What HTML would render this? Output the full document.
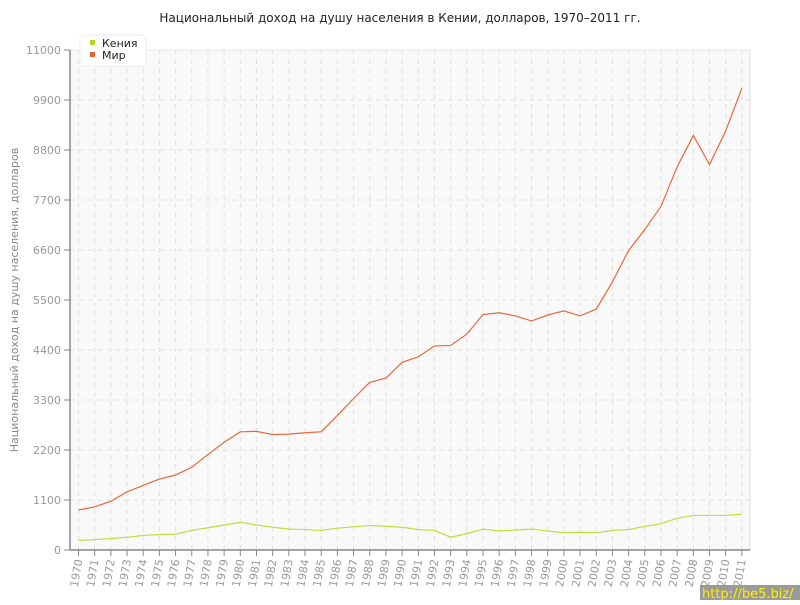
<!DOCTYPE html>
<html><head><meta charset="utf-8"><style>
body{margin:0;background:#fff;width:800px;height:600px;overflow:hidden;font-family:"Liberation Sans","DejaVu Sans",sans-serif}
</style></head><body>
<svg id="c" width="800" height="600" xmlns="http://www.w3.org/2000/svg" font-family="DejaVu Sans, Liberation Sans, sans-serif">
<rect x="0" y="0" width="800" height="600" fill="#fff"/>
<text x="400" y="22" text-anchor="middle" font-size="12" fill="#222">Национальный доход на душу населения в Кении, долларов, 1970–2011 гг.</text>
<rect x="70" y="50" width="680" height="500" fill="#f9f9f9"/>
<g id="grid"></g>
<line x1="750" y1="50" x2="750" y2="550" stroke="#ddd"/>
<line x1="70" y1="50" x2="750" y2="50" stroke="#e4e4e4"/>
<line x1="70" y1="50" x2="70" y2="550" stroke="#888" stroke-width="1.5"/>
<line x1="70" y1="550" x2="750" y2="550" stroke="#888" stroke-width="1.5"/>
<g id="ticks"></g>
<polyline id="w" fill="none" stroke="#e8683a" stroke-width="1.2"/>
<polyline id="k" fill="none" stroke="#c2dc3c" stroke-width="1.2"/>
<text transform="translate(18,300) rotate(-90)" text-anchor="middle" font-size="11" fill="#888">Национальный доход на душу населения, долларов</text>
<rect x="80" y="35" width="66" height="31" rx="4" fill="#fff" stroke="#eee"/>
<rect x="90" y="40" width="5" height="5" fill="#b5d825"/>
<text x="102" y="47" font-size="11" fill="#222">Кения</text>
<rect x="90" y="52" width="5" height="5" fill="#e0662f"/>
<text x="102" y="59" font-size="11" fill="#222">Мир</text>
<rect x="700" y="585" width="100" height="15" fill="#9a9a9a"/>
<text x="702" y="598" font-size="13" fill="#ffee00">http://be5.biz/</text>
</svg>
<script>
var ns="http://www.w3.org/2000/svg";
function el(t,a,p,tx){var e=document.createElementNS(ns,t);for(var k in a)e.setAttribute(k,a[k]);if(tx)e.textContent=tx;document.getElementById(p).appendChild(e);}
var X=function(i){return 78.5+i*16.18;},Y=function(v){return 550-v/22;};
for(var i=0;i<=10;i++){var y=550-i*50;
 if(i>0)el("line",{x1:70,x2:750,y1:y,y2:y,stroke:"#e2e2e2","stroke-dasharray":"5,4"},"grid");
 el("line",{x1:64,x2:70,y1:y,y2:y,stroke:"#888"},"ticks");
 el("text",{x:61,y:y+4,"text-anchor":"end","font-size":"11",fill:"#999"},"ticks",String(i*1100));}
for(var i=0;i<42;i++){var x=X(i);
 el("line",{x1:x,x2:x,y1:50,y2:550,stroke:"#e2e2e2","stroke-dasharray":"5,4"},"grid");
 el("line",{x1:x,x2:x,y1:550,y2:556,stroke:"#888"},"ticks");
 el("text",{transform:"translate("+(x+4)+",560) rotate(-80)","text-anchor":"end","font-size":"11",fill:"#999"},"ticks",String(1970+i));}
var w=[880,950,1070,1280,1420,1560,1650,1820,2100,2370,2600,2610,2540,2550,2580,2600,2960,3330,3690,3780,4130,4250,4490,4500,4750,5180,5220,5150,5040,5170,5260,5150,5300,5900,6590,7050,7560,8430,9120,8480,9220,10160];
var k=[210,230,250,280,320,340,350,430,490,550,610,550,500,460,450,430,480,510,540,520,500,450,430,280,360,460,420,440,460,420,380,390,380,430,450,520,580,700,760,760,760,790];
document.getElementById("w").setAttribute("points",w.map(function(v,i){return X(i)+","+Y(v)}).join(" "));
document.getElementById("k").setAttribute("points",k.map(function(v,i){return X(i)+","+Y(v)}).join(" "));
</script>
</body></html>
